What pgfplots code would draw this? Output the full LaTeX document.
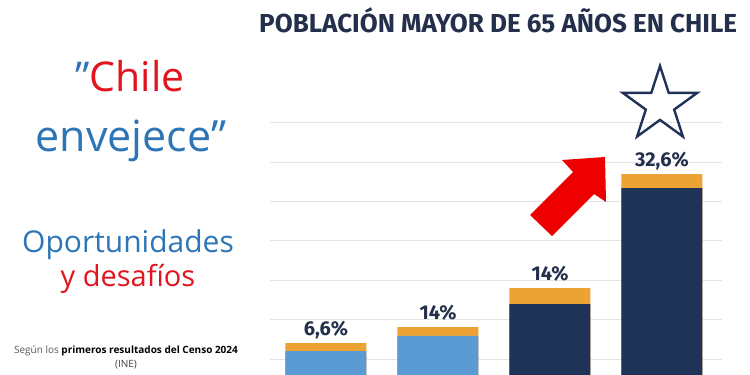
\documentclass[border=0pt]{standalone}
\usepackage{pgfplots}
\pgfplotsset{compat=1.18}
\usepackage{pgfplotstable}
\usepackage{fontspec}
\setmainfont{Open Sans}
\newfontfamily\fira{Fira Sans}

\definecolor{textblue}{RGB}{46,117,182}
\definecolor{textred}{RGB}{226,20,30}
\definecolor{titlenavy}{RGB}{35,47,75}
\definecolor{barnavy}{RGB}{31,50,88}
\definecolor{barlight}{RGB}{91,155,213}
\definecolor{barorange}{RGB}{237,163,52}
\definecolor{gridgray}{RGB}{228,228,228}
\definecolor{arrowred}{RGB}{238,0,0}

% bar heights (chart units) and the printed share of people aged 65+
\pgfplotstableread{
x  base   total  label
0  1.203  1.406  6,6\%
1  1.584  1.812  14\%
}\censoA
\pgfplotstableread{
x  base   total  label
2  2.396  2.802  14\%
3  5.340  5.695  32,6\%
}\censoB

\begin{document}
\begin{tikzpicture}[x=1pt,y=1pt]
\path[fill=white,use as bounding box] (0,0) rectangle (750,375);

\begin{axis}[
  at={(270pt,0pt)}, anchor=south west,
  scale only axis, width=452pt, height=265pt,
  xmin=-0.5, xmax=3.536,
  ymin=0.594, ymax=7.32,
  axis line style={draw=none},
  xtick=\empty,
  ytick={1,2,3,4,5,6,7}, yticklabels={},
  major tick length=0pt,
  ymajorgrids, grid style={gridgray, line width=1pt},
  clip mode=individual,
  ybar, bar width=81pt, bar shift=0pt,
]
  \addplot[fill=barorange, draw=none,
    nodes near coords, point meta=explicit symbolic,
    every node near coord/.style={anchor=base, yshift=8pt,
      font=\fira\bfseries\fontsize{20}{20}\selectfont, text=titlenavy}]
    table[x=x, y=total, meta=label] {\censoA};
  \addplot[fill=barorange, draw=none,
    nodes near coords, point meta=explicit symbolic,
    every node near coord/.style={anchor=base, yshift=8pt,
      font=\fira\bfseries\fontsize{20}{20}\selectfont, text=titlenavy}]
    table[x=x, y=total, meta=label] {\censoB};
  \addplot[fill=barlight, draw=none] table[x=x, y=base] {\censoA};
  \addplot[fill=barnavy, draw=none] table[x=x, y=base] {\censoB};
\end{axis}

% title
\node[anchor=base west, inner sep=0pt, text=titlenavy]
  at (259,342) {\fira\bfseries\fontsize{26}{26}\selectfont POBLACIÓN MAYOR DE 65 AÑOS EN CHILE};

% star above the last bar
\draw[barnavy, line width=2.4pt, line join=miter, shift={(660,270)}]
  (90:39) -- (126:14.9) -- (162:39) -- (198:14.9) -- (234:39) -- (270:14.9)
  -- (306:39) -- (342:14.9) -- (18:39) -- (54:14.9) -- cycle;

% red arrow
\fill[arrowred] (605,218) -- (562,215) -- (573,203) -- (530,160) -- (552,139)
  -- (594,181) -- (606,173) -- cycle;

% left-hand headline
\node[anchor=base, inner sep=0pt] at (130,283)
  {\fontsize{41}{41}\selectfont\textcolor{textblue}{\symbol{"0022}}\textcolor{textred}{Chile}};
\node[anchor=base, inner sep=0pt] at (131,223)
  {\fontsize{43}{43}\selectfont\textcolor{textblue}{envejece”}};
\node[anchor=base, inner sep=0pt] at (128,122)
  {\fontsize{30}{30}\selectfont\textcolor{textblue}{Oportunidades}};
\node[anchor=base, inner sep=0pt] at (128,88)
  {\fontsize{29}{29}\selectfont\textcolor{textred}{y desafíos}};

% source
\node[anchor=base, inner sep=0pt] at (126,21)
  {\fontsize{10}{10}\selectfont\textcolor{black!65}{Según los} \textbf{primeros resultados del Censo 2024}};
\node[anchor=base, inner sep=0pt] at (126,8)
  {\fontsize{10}{10}\selectfont\textcolor{black!75}{(INE)}};
\end{tikzpicture}
\end{document}
